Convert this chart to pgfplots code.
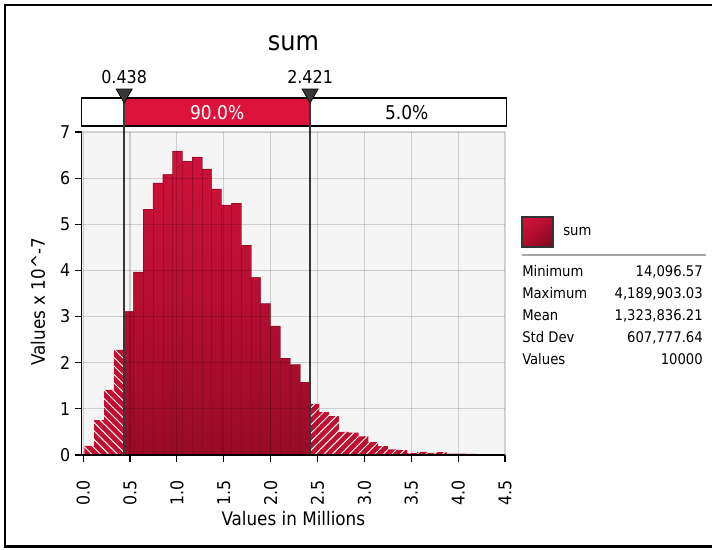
\documentclass[border=0pt]{standalone}
\usepackage{fontspec}
\setmainfont{DejaVu Sans Condensed}
\usepackage{pgfplots}
\pgfplotsset{compat=1.18}
\usetikzlibrary{patterns.meta,shadings}

\definecolor{crim}{RGB}{220,20,60}
\definecolor{barT}{RGB}{208,18,58}
\definecolor{barB}{RGB}{152,11,40}
\definecolor{barE}{RGB}{130,8,32}
\definecolor{hatchfill}{RGB}{190,15,48}
\definecolor{mk}{RGB}{55,55,55}
\definecolor{swUL}{RGB}{215,20,58}
\definecolor{swUR}{RGB}{185,14,48}
\definecolor{swLL}{RGB}{175,12,44}
\definecolor{swLR}{RGB}{120,8,30}
\newcommand\fs[1]{\fontsize{#1}{#1}\selectfont}

\begin{document}
\begin{tikzpicture}
\begin{axis}[
  scale only axis,
  width=317.5pt, height=242.25pt,
  xmin=-0.015, xmax=4.5, ymin=0, ymax=7,
  clip=false,
  axis lines*=left,
  axis line style={-, line width=1.1pt, black},
  axis background/.style={fill=gray!8},
  axis on top,
  grid=major,
  major grid style={draw=black, opacity=0.16, line width=0.9pt},
  xtick={0,0.5,...,4.5}, ytick={0,1,...,7},
  tick align=outside, major tick length=5pt,
  tick style={black, line width=0.9pt},
  /pgf/number format/assume math mode=true,
  xticklabel style={rotate=90, anchor=east, inner xsep=14pt, font=\fs{13.2},
    /pgf/number format/.cd, fixed, fixed zerofill, precision=1},
  yticklabel style={font=\fs{13.2}},
  xlabel={Values in Millions},
  ylabel={Values x 10\textasciicircum-7},
  every axis x label/.style={at={(axis description cs:0.5,0)}, anchor=center, yshift=-48pt, font=\fs{14}},
  every axis y label/.style={at={(axis description cs:0,0.4746)}, xshift=-32.8pt, rotate=90, anchor=center, font=\fs{14}},
]
\coordinate (O) at (rel axis cs:0,0);
% left tail (hatched)
\addplot[ybar interval, draw=none, fill=hatchfill,
  postaction={pattern={Lines[angle=-45,distance=4.5pt,line width=0.7pt]}, pattern color=white}]
  coordinates {(0.0141,0.20) (0.1185,0.755) (0.2229,1.41) (0.3273,2.28) (0.438,0)};
% central 90%
\addplot[ybar interval, draw=barE, draw opacity=0.55, line width=0.35pt, top color=barT, bottom color=barB]
  coordinates {(0.438,3.11) (0.5361,3.97) (0.6405,5.33) (0.7449,5.90) (0.8493,6.08)
   (0.9537,6.59) (1.0581,6.37) (1.1625,6.46) (1.2668,6.20) (1.3712,5.77)
   (1.4756,5.42) (1.5800,5.46) (1.6844,4.55) (1.7888,3.85) (1.8932,3.28)
   (1.9976,2.80) (2.1020,2.10) (2.2064,1.96) (2.3108,1.58) (2.421,0)};
% right tail (hatched)
\addplot[ybar interval, draw=none, fill=hatchfill,
  postaction={pattern={Lines[angle=45,distance=4.5pt,line width=0.7pt]}, pattern color=white}]
  coordinates {(2.421,1.11) (2.5196,0.93) (2.6240,0.84) (2.7284,0.50) (2.8328,0.485)
   (2.9372,0.405) (3.0416,0.28) (3.1460,0.195) (3.2504,0.12) (3.3548,0.105)
   (3.4592,0.04) (3.5636,0.07) (3.6680,0.04) (3.7724,0.06) (3.8768,0.03)
   (3.9812,0.03) (4.0856,0.025) (4.1900,0)};

% percentile bar on top
\draw[line width=1.1pt, fill=white] (axis cs:-0.015,7.13) rectangle (axis cs:4.518,7.737);
\fill[crim] (axis cs:0.438,7.13) rectangle (axis cs:2.421,7.737);
\draw[line width=1.1pt] (axis cs:-0.015,7.13) rectangle (axis cs:4.518,7.737);
\node[white, font=\fs{14.2}] at (axis cs:1.43,7.43) {90.0\%};
\node[black, font=\fs{14.2}] at (axis cs:3.452,7.43) {5.0\%};
% delimiters
\draw[mk, line width=1.1pt] (axis cs:0.438,0) -- (axis cs:0.438,7.737);
\draw[mk, line width=1.1pt] (axis cs:2.421,0) -- (axis cs:2.421,7.737);
\addplot[only marks, mark=triangle*, mark size=7pt,
  mark options={rotate=180, fill=mk, draw=black, line width=0.5pt}]
  coordinates {(0.438,7.83) (2.421,7.83)};
\node[font=\fs{13.3}] at (axis cs:0.438,8.19) {0.438};
\node[font=\fs{13.3}] at (axis cs:2.421,8.19) {2.421};
\node[font=\fs{20}] at (axis cs:2.2425,8.93) {sum};
\end{axis}

\pgfresetboundingbox
\begin{scope}[shift={(O)}]
\begin{scope}[x=0.75pt,y=0.75pt,shift={(-81.7,-94)}]
\useasboundingbox (0,0) rectangle (712,549);
\draw[line width=2.2pt] (740,544) -- (5,544) -- (5,2.5) -- (740,2.5);
% legend / statistics
\shade[upper left=swUL, upper right=swUR, lower left=swLL, lower right=swLR]
  (522,302) rectangle (553,332);
\draw[line width=1.1pt, black!80] (522,302) rectangle (553,332);
\node[anchor=west, font=\fs{11}, inner sep=0pt] at (563,318) {sum};
\draw[line width=1.1pt, gray!70] (522,294) -- (706,294);
\begin{scope}[every node/.style={font=\fs{11}, inner sep=0pt, text height=1.6ex, text depth=0.3ex}]
\node[anchor=west] at (522,277.3) {Minimum};
\node[anchor=west] at (522,255.3) {Maximum};
\node[anchor=west] at (522,233.3) {Mean};
\node[anchor=west] at (522,211.3) {Std Dev};
\node[anchor=west] at (522,189.3) {Values};
\node[anchor=east] at (703,277.3) {14,096.57};
\node[anchor=east] at (703,255.3) {4,189,903.03};
\node[anchor=east] at (703,233.3) {1,323,836.21};
\node[anchor=east] at (703,211.3) {607,777.64};
\node[anchor=east] at (703,189.3) {10000};
\end{scope}
\end{scope}
\end{scope}
\end{tikzpicture}
\end{document}
